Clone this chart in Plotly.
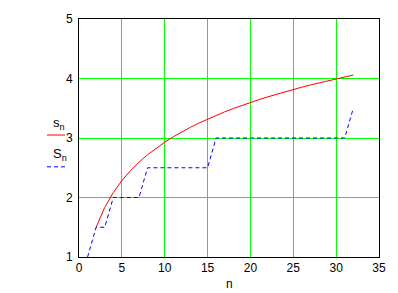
import plotly.graph_objects as go

# Data
n_red = list(range(2, 33))
s_vals = [1.5, 1.8333, 2.0833, 2.2833, 2.45, 2.5929, 2.7179, 2.829, 2.929,
          3.0199, 3.1032, 3.1801, 3.2516, 3.3182, 3.3807, 3.4396, 3.4951,
          3.5477, 3.5977, 3.6454, 3.6908, 3.7343, 3.776, 3.816, 3.8544,
          3.8915, 3.9272, 3.9617, 3.995, 4.0272, 4.0585]
n_blue = list(range(1, 33))
S_vals = [1, 1.5, 1.5, 2, 2, 2, 2, 2.5, 2.5, 2.5, 2.5, 2.5, 2.5, 2.5, 2.5,
          3, 3, 3, 3, 3, 3, 3, 3, 3, 3, 3, 3, 3, 3, 3, 3, 3.5]
x_ticks = [0, 5, 10, 15, 20, 25, 30, 35]
y_ticks = [1, 2, 3, 4, 5]

font = dict(family="Liberation Sans, Arial, sans-serif", size=12, color="black")
lfont = dict(family="Liberation Sans, Arial, sans-serif", size=13, color="black")

fig = go.Figure()
fig.add_trace(go.Scatter(x=n_red, y=s_vals, mode="lines",
                         line=dict(color="#ff0000", width=1), showlegend=False))
fig.add_trace(go.Scatter(x=n_blue, y=S_vals, mode="lines",
                         line=dict(color="#0000ff", width=1, dash="4px,3px"),
                         showlegend=False))

axis_common = dict(showgrid=True, gridcolor="#00ff00", gridwidth=1,
                   showline=True, linecolor="black", linewidth=1, mirror=True,
                   zeroline=False, ticks="", tickfont=font)

fig.update_xaxes(range=[0, 35], tickvals=x_ticks, **axis_common)
fig.update_yaxes(range=[1, 5], tickvals=y_ticks, ticklabelstandoff=3, **axis_common)

# legend-like labels
fig.add_annotation(x=-0.094, y=0.56, xref="paper", yref="paper",
                   text="s<sub>n</sub>", showarrow=False, font=lfont)
fig.add_annotation(x=-0.094, y=0.43, xref="paper", yref="paper",
                   text="S<sub>n</sub>", showarrow=False, font=lfont)
fig.add_shape(type="line", xref="paper", yref="paper", x0=-0.1067, x1=-0.0467,
              y0=0.5125, y1=0.5125, line=dict(color="#ff0000", width=1))
fig.add_shape(type="line", xref="paper", yref="paper", x0=-0.1067, x1=-0.0467,
              y0=0.379, y1=0.379, line=dict(color="#0000ff", width=1, dash="4px,3px"))
fig.add_annotation(x=0.5, y=-0.146, xref="paper", yref="paper", yanchor="bottom",
                   text="n", showarrow=False, font=font, borderpad=0)

fig.update_layout(width=398, height=293,
                  margin=dict(l=79, r=19, t=17, b=36),
                  paper_bgcolor="white", plot_bgcolor="white",
                  showlegend=False)

fig.write_html("out.html")
